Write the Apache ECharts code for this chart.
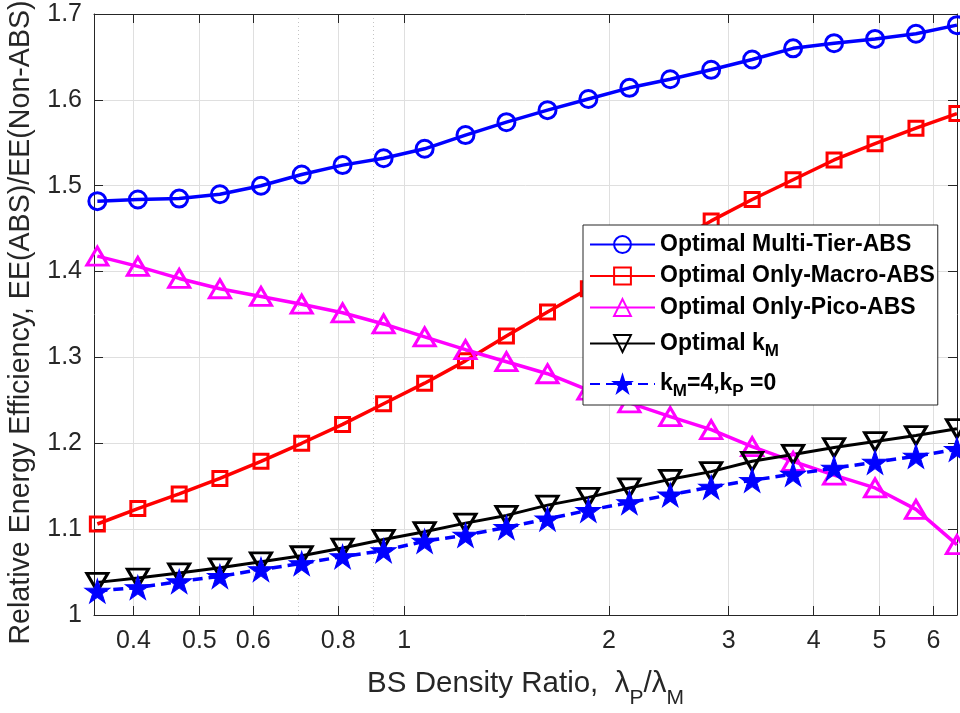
<!DOCTYPE html>
<html>
<head>
<meta charset="utf-8">
<script src="https://cdn.jsdelivr.net/npm/echarts@6/dist/echarts.min.js"></script>
<style>
  html, body { margin: 0; padding: 0; background: #ffffff; }
  #chart { width: 960px; height: 713px; }
</style>
</head>
<body>
<div id="chart"></div>
<script>
// BS density ratio lambda_P / lambda_M (log-spaced sample points)
const densityRatio = [0.354, 0.406, 0.467, 0.536, 0.616, 0.707, 0.812, 0.933, 1.072, 1.231, 1.414,
                      1.625, 1.866, 2.144, 2.462, 2.828, 3.249, 3.732, 4.287, 4.925, 5.657, 6.498];

// Relative energy efficiency EE(ABS)/EE(Non-ABS) per scheme
const multiTierABS = [1.482, 1.484, 1.485, 1.490, 1.500, 1.513, 1.524, 1.532, 1.543, 1.559, 1.574,
                      1.588, 1.601, 1.614, 1.624, 1.635, 1.647, 1.660, 1.666, 1.671, 1.677, 1.687];
const onlyMacroABS = [1.106, 1.124, 1.141, 1.159, 1.179, 1.200, 1.222, 1.246, 1.270, 1.296, 1.325,
                      1.353, 1.380, 1.406, 1.432, 1.459, 1.484, 1.507, 1.530, 1.549, 1.567, 1.584];
const onlyPicoABS  = [1.418, 1.406, 1.392, 1.380, 1.371, 1.362, 1.352, 1.339, 1.324, 1.309, 1.295,
                      1.281, 1.262, 1.247, 1.231, 1.216, 1.196, 1.179, 1.163, 1.148, 1.123, 1.082];
const optimalKM    = [1.038, 1.043, 1.049, 1.055, 1.062, 1.069, 1.078, 1.088, 1.097, 1.107, 1.116,
                      1.128, 1.137, 1.148, 1.158, 1.167, 1.179, 1.187, 1.195, 1.202, 1.209, 1.217];
const fixedK4P0    = [1.028, 1.032, 1.039, 1.045, 1.053, 1.060, 1.068, 1.075, 1.086, 1.093, 1.102,
                      1.112, 1.122, 1.131, 1.140, 1.149, 1.157, 1.164, 1.171, 1.178, 1.185, 1.193];

// Axis ticks
const xTicks = [0.4, 0.5, 0.6, 0.8, 1, 2, 3, 4, 5, 6];
const xMinorGrid = [0.7, 0.9];
const xRange = [0.35, 6.5];
const yRange = [1, 1.7];
const yStep = 0.1;

const seriesNames = ['Optimal Multi-Tier-ABS', 'Optimal Only-Macro-ABS', 'Optimal Only-Pico-ABS',
                     'Optimal kM', 'kM=4,kP=0'];
const legendText = {
  'Optimal Multi-Tier-ABS': '{b|Optimal Multi-Tier-ABS}',
  'Optimal Only-Macro-ABS': '{b|Optimal Only-Macro-ABS}',
  'Optimal Only-Pico-ABS': '{b|Optimal Only-Pico-ABS}',
  'Optimal kM': '{b|Optimal k}{s|M}',
  'kM=4,kP=0': '{b|k}{s|M}{b|=4,k}{s|P}{b| =0}'
};

const AXIS = '#262626';
const FONT = '"Liberation Sans", Arial, Helvetica, sans-serif';
const STAR = 'path://M0,-100L22.45,-30.9L95.1,-30.9L36.3,11.8L58.8,80.9L0,38.2L-58.8,80.9L-36.3,11.8L-95.1,-30.9L-22.45,-30.9Z';
const TRI_DOWN = 'path://M-10,-8.66L10,-8.66L0,8.66Z';

function pairs(ys) {
  return densityRatio.map((x, i) => [x, ys[i]]);
}

function lineSeries(name, ys, color, symbol, size, opts) {
  opts = opts || {};
  return {
    name: name,
    type: 'line',
    data: pairs(ys),
    clip: false,
    symbol: symbol,
    symbolSize: size,
    showAllSymbol: true,
    lineStyle: { color: color, width: opts.width || 3.5, type: opts.dash || 'solid' },
    itemStyle: {
      color: opts.filled ? color : 'rgba(0,0,0,0)',
      borderColor: color,
      borderWidth: opts.filled ? 1 : 3
    },
    emphasis: { disabled: true },
    z: 2
  };
}

const chart = echarts.init(document.getElementById('chart'), null, { renderer: 'canvas' });

const xFmt = v => String(+Number(v).toPrecision(6));

chart.setOption({
  animation: false,
  backgroundColor: '#ffffff',
  textStyle: { fontFamily: FONT },
  grid: { left: 94, right: 3, top: 14, bottom: 98, containLabel: false, outerBoundsMode: 'none' },
  legend: {
    data: seriesNames,
    orient: 'vertical',
    left: 583,
    top: 225,
    padding: [8, 3, 5, 6],
    itemGap: 8.5,
    itemWidth: 65,
    itemHeight: 21,
    selectedMode: false,
    backgroundColor: '#ffffff',
    borderColor: AXIS,
    borderWidth: 1,
    borderRadius: 0,
    formatter: name => legendText[name],
    textStyle: {
      color: '#000000',
      rich: {
        b: { fontFamily: FONT, fontSize: 23, fontWeight: 'bold', color: '#000000', lineHeight: 23, verticalAlign: 'top' },
        s: { fontFamily: FONT, fontSize: 17, fontWeight: 'bold', color: '#000000', lineHeight: 17, padding: [15, 0, 0, 0] }
      }
    }
  },
  xAxis: [
    {
      type: 'log', logBase: 10, min: xRange[0], max: xRange[1], position: 'bottom',
      name: '{b|BS Density Ratio,  λ}{s|P}{b|/λ}{s|M}',
      nameLocation: 'middle', nameGap: 54,
      nameTextStyle: {
        rich: {
          b: { fontFamily: FONT, fontSize: 29.5, color: AXIS, lineHeight: 30, verticalAlign: 'top' },
          s: { fontFamily: FONT, fontSize: 21, color: AXIS, lineHeight: 21, padding: [28, 0, 0, 0] }
        }
      },
      axisLine: { show: true, onZero: false, lineStyle: { color: AXIS, width: 1 } },
      axisTick: { show: true, inside: true, length: 9, customValues: xTicks, lineStyle: { color: AXIS } },
      axisLabel: { show: true, customValues: xTicks, margin: 14, fontSize: 25, color: AXIS, fontFamily: FONT, formatter: xFmt },
      splitLine: { show: true, lineStyle: { color: '#dfdfdf', width: 1 } },
      minorTick: { show: false }, minorSplitLine: { show: false }
    },
    {
      type: 'log', logBase: 10, min: xRange[0], max: xRange[1], position: 'top',
      axisLine: { show: true, onZero: false, lineStyle: { color: AXIS, width: 1 } },
      axisTick: { show: true, inside: true, length: 9, customValues: xTicks, lineStyle: { color: AXIS } },
      axisLabel: { show: false, customValues: xTicks },
      splitLine: { show: false }
    },
    {
      type: 'log', logBase: 10, min: xRange[0], max: xRange[1], position: 'bottom',
      axisLine: { show: false },
      axisTick: { show: false, customValues: xMinorGrid },
      axisLabel: { show: false, customValues: xMinorGrid },
      splitLine: { show: true, lineStyle: { color: '#c4c4c4', width: 1, type: [1, 3] } }
    }
  ],
  yAxis: [
    {
      type: 'value', min: yRange[0], max: yRange[1], interval: yStep, position: 'left',
      name: 'Relative Energy Efficiency, EE(ABS)/EE(Non-ABS)',
      nameLocation: 'middle', nameGap: 58,
      nameTextStyle: { fontFamily: FONT, fontSize: 28.6, color: AXIS, padding: [0, 16, 0, 0] },
      axisLine: { show: true, onZero: false, lineStyle: { color: AXIS, width: 1 } },
      axisTick: { show: true, inside: true, length: 9, lineStyle: { color: AXIS } },
      axisLabel: { show: true, margin: 12, fontSize: 25, color: AXIS, fontFamily: FONT,
                   formatter: v => String(+Number(v).toFixed(1)) },
      splitLine: { show: true, lineStyle: { color: '#dfdfdf', width: 1 } }
    },
    {
      type: 'value', min: yRange[0], max: yRange[1], interval: yStep, position: 'right',
      axisLine: { show: true, onZero: false, lineStyle: { color: AXIS, width: 1 } },
      axisTick: { show: true, inside: true, length: 9, lineStyle: { color: AXIS } },
      axisLabel: { show: false },
      splitLine: { show: false }
    }
  ],
  series: [
    lineSeries(seriesNames[0], multiTierABS, '#0000ff', 'circle', 17),
    lineSeries(seriesNames[1], onlyMacroABS, '#ff0000', 'rect', 14),
    lineSeries(seriesNames[2], onlyPicoABS, '#ff00ff', 'triangle', [21, 18]),
    lineSeries(seriesNames[3], optimalKM, '#000000', TRI_DOWN, [21, 18], { width: 3 }),
    lineSeries(seriesNames[4], fixedK4P0, '#0000ff', STAR, [25, 24], { filled: true, dash: [10, 6] })
  ]
});
</script>
</body>
</html>
